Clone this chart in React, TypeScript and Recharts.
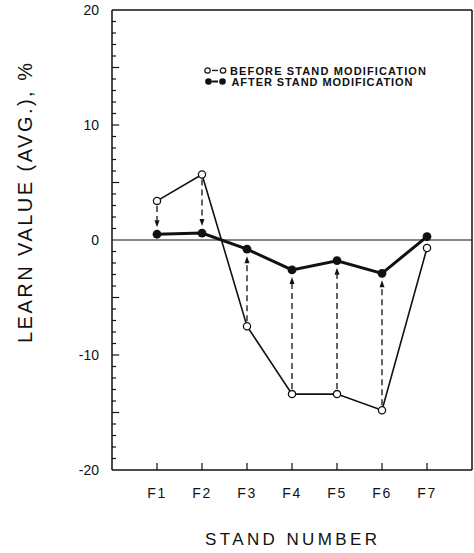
import { LineChart, Line, XAxis, YAxis, ReferenceLine, Legend, Label } from 'recharts';

// ── Data ──

const stands = ['F1', 'F2', 'F3', 'F4', 'F5', 'F6', 'F7'];
const beforeValues = [3.4, 5.7, -7.5, -13.4, -13.4, -14.8, -0.7];
const afterValues = [0.5, 0.6, -0.8, -2.6, -1.8, -2.9, 0.3];
const arrowStands = [1, 2, 3, 4, 5, 6];

const yLabelTicks = [-20, -10, 0, 10, 20];
const yMinorTicks = Array.from({ length: 39 }, (_, i) => i - 19).filter((v) => v !== 0);

const data = stands.map((s, i) => ({ x: i + 1, stand: s, before: beforeValues[i], after: afterValues[i] }));

const FONT = '"Liberation Sans", Arial, Helvetica, sans-serif';
const INK = '#111';

// ── Helpers ──

// dashed vertical arrow from the "before" point to the "after" point
function DashedArrow(props: any) {
  const { x1, y1, x2, y2 } = props;
  const dir = y2 > y1 ? 1 : -1;
  const sy = y1 + dir * 5;
  const tip = y2 - dir * 7;
  const base = tip - dir * 7;
  return (
    <g>
      <line x1={x1} y1={sy} x2={x2} y2={base} stroke={INK} strokeWidth={1.3} strokeDasharray="6 4" />
      <polygon points={`${x2 - 2.5},${base} ${x2 + 2.5},${base} ${x2},${tip}`} fill={INK} />
    </g>
  );
}

function TickMark(props: any) {
  const { x1, y1, x2, y2 } = props;
  return <line x1={x1} y1={y1} x2={x2} y2={y2} stroke={INK} strokeWidth={1.2} />;
}

function YTitle({ viewBox }: any) {
  const x = viewBox.x + 25;
  const y = viewBox.y + viewBox.height / 2 - 37;
  return (
    <text
      x={x}
      y={y}
      transform={`rotate(-90 ${x} ${y})`}
      textAnchor="middle"
      dominantBaseline="central"
      fontFamily={FONT}
      fontSize={20}
      fill={INK}
      textLength={280}
      lengthAdjust="spacing"
    >
      LEARN VALUE (AVG.), %
    </text>
  );
}

function XTitle({ viewBox }: any) {
  const x = viewBox.x + viewBox.width / 2 - 1;
  const y = viewBox.y + 75;
  return (
    <text x={x} y={y} textAnchor="middle" fontFamily={FONT} fontSize={17} fill={INK} textLength={172} lengthAdjust="spacing">
      STAND NUMBER
    </text>
  );
}

function LegendBox() {
  return (
    <svg width={240} height={30} style={{ display: 'block' }}>
      <line x1={12} y1={8.5} x2={18} y2={8.5} stroke={INK} strokeWidth={1.3} />
      <circle cx={7.5} cy={8.5} r={2.7} fill="#fff" stroke={INK} strokeWidth={1.2} />
      <circle cx={23} cy={8.5} r={2.7} fill="#fff" stroke={INK} strokeWidth={1.2} />
      <text x={30} y={12.5} fontFamily={FONT} fontSize={11} fontWeight={700} fill={INK} textLength={196} lengthAdjust="spacing">
        BEFORE STAND MODIFICATION
      </text>
      <line x1={12} y1={19.5} x2={18} y2={19.5} stroke={INK} strokeWidth={2} />
      <circle cx={8.5} cy={19.5} r={3.3} fill={INK} />
      <circle cx={22.5} cy={19.5} r={3.3} fill={INK} />
      <text x={31.5} y={23.5} fontFamily={FONT} fontSize={11} fontWeight={700} fill={INK} textLength={181} lengthAdjust="spacing">
        AFTER STAND MODIFICATION
      </text>
    </svg>
  );
}

// ── Chart ──

export default function App() {
  return (
    <div style={{ position: 'absolute', left: 0, top: 0, width: 474, height: 553, background: '#fff' }}>
      <LineChart width={474} height={553} data={data} margin={{ top: 10, right: 2, bottom: 0, left: 0 }}>
        <XAxis
          dataKey="x"
          type="number"
          domain={[0, 8]}
          ticks={[1, 2, 3, 4, 5, 6, 7]}
          tickFormatter={(v) => stands[v - 1]}
          height={83}
          axisLine={{ stroke: INK, strokeWidth: 1.5 }}
          tickLine={false}
          tickSize={0}
          tickMargin={18}
          tick={{ fontFamily: FONT, fontSize: 14, fill: INK, letterSpacing: 1.5 }}
        >
          <Label content={<XTitle />} />
        </XAxis>
        <YAxis
          type="number"
          domain={[-20, 20]}
          ticks={yLabelTicks}
          width={112}
          axisLine={{ stroke: INK, strokeWidth: 1.5 }}
          tickLine={false}
          tickSize={0}
          tickMargin={13}
          tick={{ fontFamily: FONT, fontSize: 14, fill: INK }}
        >
          <Label content={<YTitle />} />
        </YAxis>

        {/* frame */}
        <ReferenceLine y={20} stroke={INK} strokeWidth={1.5} />
        <ReferenceLine x={8} stroke={INK} strokeWidth={1.5} />
        <ReferenceLine y={0} stroke={INK} strokeWidth={1.2} />

        {/* inward tick marks */}
        {yMinorTicks.map((v) => (
          <ReferenceLine
            key={`yt${v}`}
            segment={[{ x: 0, y: v }, { x: v % 5 === 0 ? 0.16 : 0.09, y: v }]}
            shape={<TickMark />}
          />
        ))}
        {stands.map((s, i) => (
          <ReferenceLine key={`xt${s}`} segment={[{ x: i + 1, y: -20 }, { x: i + 1, y: -19.4 }]} shape={<TickMark />} />
        ))}

        {/* before -> after arrows */}
        {arrowStands.map((n) => (
          <ReferenceLine
            key={`ar${n}`}
            segment={[{ x: n, y: beforeValues[n - 1] }, { x: n, y: afterValues[n - 1] }]}
            shape={<DashedArrow />}
          />
        ))}

        <Line
          dataKey="before"
          stroke={INK}
          strokeWidth={1.6}
          dot={{ r: 3.6, fill: '#fff', stroke: INK, strokeWidth: 1.3 }}
          isAnimationActive={false}
        />
        <Line
          dataKey="after"
          stroke={INK}
          strokeWidth={3}
          dot={{ r: 4.4, fill: INK, stroke: INK, strokeWidth: 0 }}
          isAnimationActive={false}
        />

        <Legend
          layout="vertical"
          align="center"
          verticalAlign="middle"
          content={<LegendBox />}
          wrapperStyle={{ top: 62, left: 200, width: 240 }}
        />
      </LineChart>
    </div>
  );
}
